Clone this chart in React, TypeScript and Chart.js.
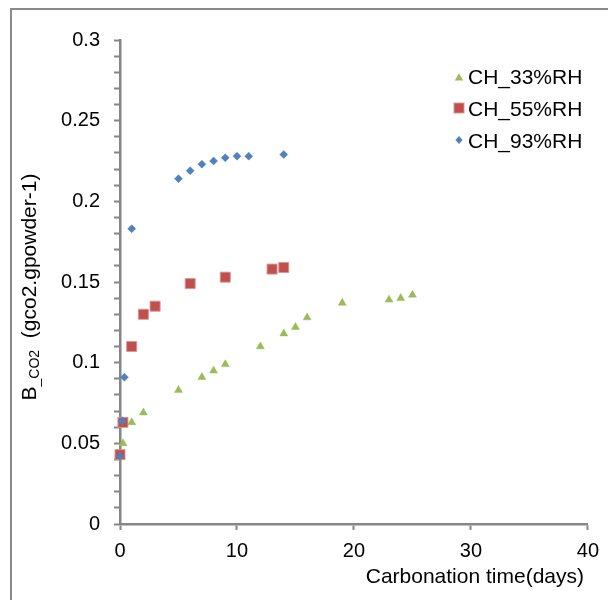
import React, { useEffect, useRef } from "react";
import { Chart, registerables } from "chart.js";

Chart.register(...registerables);

const FONT = '"Liberation Sans", Arial, Helvetica, sans-serif';

// Series: CH_33%RH (green triangles)
const rh33Days = [0, 0.25, 1, 2, 5, 7, 8, 9, 12, 14, 15, 16, 19, 23, 24, 25];
const rh33Values = [0.042, 0.05, 0.063, 0.069, 0.083, 0.091, 0.095, 0.099, 0.11, 0.118, 0.122, 0.128, 0.137, 0.139, 0.14, 0.142];

// Series: CH_55%RH (red squares)
const rh55Days = [0, 0.25, 1, 2, 3, 6, 9, 13, 14];
const rh55Values = [0.043, 0.063, 0.11, 0.13, 0.135, 0.149, 0.153, 0.158, 0.159];

// Series: CH_93%RH (blue diamonds)
const rh93Days = [0, 0.2, 0.375, 1, 5, 6, 7, 8, 9, 10, 11, 14];
const rh93Values = [0.042, 0.064, 0.091, 0.183, 0.214, 0.219, 0.223, 0.225, 0.227, 0.228, 0.228, 0.229];

const seriesLabels = ["CH_33%RH", "CH_55%RH", "CH_93%RH"];
const seriesColors = ["#9BBB59", "#C0504D", "#4F81BD"];

// Axis ticks
const xTickValues = [0, 10, 20, 30, 40];
const yMajorTicks = [0, 0.05, 0.1, 0.15, 0.2, 0.25, 0.3];
const yTickLabels = ["0", "0.05", "0.1", "0.15", "0.2", "0.25", "0.3"];

const xTitle = "Carbonation time(days)";

const AXIS = "#868686";

function pts(xs: number[], ys: number[]) {
  return xs.map((x, i) => ({ x, y: ys[i] }));
}

export default function App() {
  const ref = useRef<HTMLCanvasElement>(null);

  useEffect(() => {
    const chart = new Chart(ref.current!, {
      type: "scatter",
      data: {
        datasets: [
          {
            label: seriesLabels[0],
            data: pts(rh33Days, rh33Values),
            pointStyle: "triangle",
            pointRadius: 4.6,
            backgroundColor: seriesColors[0],
            borderColor: seriesColors[0],
            borderWidth: 0.5,
            order: 3,
            clip: false as any,
          },
          {
            label: seriesLabels[1],
            data: pts(rh55Days, rh55Values),
            pointStyle: "rect",
            pointRadius: 7.1,
            backgroundColor: seriesColors[1],
            borderColor: "rgba(217,150,148,0.9)",
            borderWidth: 1,
            order: 2,
            clip: false as any,
          },
          {
            label: seriesLabels[2],
            data: pts(rh93Days, rh93Values),
            pointStyle: "rectRot",
            pointRadius: 4,
            backgroundColor: seriesColors[2],
            borderColor: seriesColors[2],
            borderWidth: 0.5,
            order: 1,
            clip: false as any,
          },
        ],
      },
      options: {
        animation: false,
        responsive: false,
        devicePixelRatio: 1,
        layout: { padding: { left: 0, right: 20, top: 32, bottom: 0 } },
        plugins: {
          legend: { display: false },
          tooltip: { enabled: false },
        },
        scales: {
          x: {
            type: "linear",
            min: xTickValues[0],
            max: xTickValues[xTickValues.length - 1],
            afterFit: (s: any) => {
              s.height = 76;
            },
            afterBuildTicks: (s: any) => {
              s.ticks = xTickValues.map((v) => ({ value: v }));
            },
            border: { color: AXIS, width: 2.5 },
            grid: {
              display: true,
              drawOnChartArea: false,
              drawTicks: true,
              tickLength: 6,
              tickColor: AXIS,
              tickWidth: 2,
            },
            ticks: {
              autoSkip: false,
              maxRotation: 0,
              padding: 9,
              color: "#000",
              font: { family: FONT, size: 20 },
              callback: (v: any) => String(v),
            },
          },
          y: {
            type: "linear",
            min: yMajorTicks[0],
            max: yMajorTicks[yMajorTicks.length - 1],
            afterFit: (s: any) => {
              s.width = 112;
            },
            border: { color: AXIS, width: 2.5 },
            grid: {
              display: true,
              drawOnChartArea: false,
              drawTicks: true,
              tickLength: 6,
              tickColor: AXIS,
              tickWidth: 2,
            },
            ticks: {
              stepSize: 0.01,
              autoSkip: false,
              padding: 14,
              color: "#000",
              font: { family: FONT, size: 20 },
              callback: (v: any) => {
                const i = yMajorTicks.findIndex((m) => Math.abs(m - Number(v)) < 1e-6);
                return i >= 0 ? yTickLabels[i] : "";
              },
            },
          },
        },
      },
    });
    return () => chart.destroy();
  }, []);

  const rowCenters = [68.5, 100.3, 132.1];

  const marker = (i: number) => {
    if (i === 0)
      return (
        <svg width="12" height="12" viewBox="0 0 12 12">
          <polygon points="6,2.2 10.2,9.4 1.8,9.4" fill={seriesColors[0]} />
        </svg>
      );
    if (i === 1)
      return (
        <svg width="12" height="12" viewBox="0 0 12 12">
          <rect x="1" y="1" width="10" height="10" fill={seriesColors[1]} stroke="rgba(217,150,148,0.9)" strokeWidth="1" />
        </svg>
      );
    return (
      <svg width="12" height="12" viewBox="0 0 12 12">
        <polygon points="6,2 9.6,6 6,10 2.4,6" fill={seriesColors[2]} />
      </svg>
    );
  };

  return (
    <div style={{ position: "relative", width: 600, height: 592 }}>
      <canvas ref={ref} width={600} height={592} style={{ display: "block", width: 600, height: 592 }} />
      {/* outer frame */}
      <div
        style={{
          position: "absolute",
          left: 2,
          top: 0,
          width: 605,
          height: 600,
          boxSizing: "border-box",
          borderLeft: "2px solid #8a8a8a",
          borderTop: "2px solid #8a8a8a",
          borderRight: "1.5px solid #8a8a8a",
          pointerEvents: "none",
        }}
      />
      {/* y axis title */}
      <div
        style={{
          position: "absolute",
          left: 21.5,
          top: 279,
          transform: "translate(-50%, -50%) rotate(-90deg)",
          whiteSpace: "nowrap",
          fontFamily: FONT,
          fontSize: 21,
          lineHeight: "21px",
          color: "#000",
        }}
      >
        B
        <span style={{ fontSize: 14, position: "relative", top: 3 }}>_CO2</span>
        {"\u00a0\u00a0(gco2.gpowder-1)"}
      </div>
      {/* x axis title */}
      <div
        style={{
          position: "absolute",
          right: 24,
          top: 557,
          whiteSpace: "nowrap",
          fontFamily: FONT,
          fontSize: 21,
          lineHeight: "21px",
          color: "#000",
        }}
      >
        {xTitle}
      </div>
      {/* legend */}
      {seriesLabels.map((label, i) => (
        <div
          key={label}
          style={{
            position: "absolute",
            left: 445,
            top: rowCenters[i] - 10.5,
            height: 21,
            display: "flex",
            alignItems: "center",
            whiteSpace: "nowrap",
            fontFamily: FONT,
            fontSize: 21,
            lineHeight: "21px",
            color: "#000",
          }}
        >
          <div style={{ width: 12, height: 12, display: "flex" }}>{marker(i)}</div>
          <span style={{ marginLeft: 3 }}>{label}</span>
        </div>
      ))}
    </div>
  );
}
